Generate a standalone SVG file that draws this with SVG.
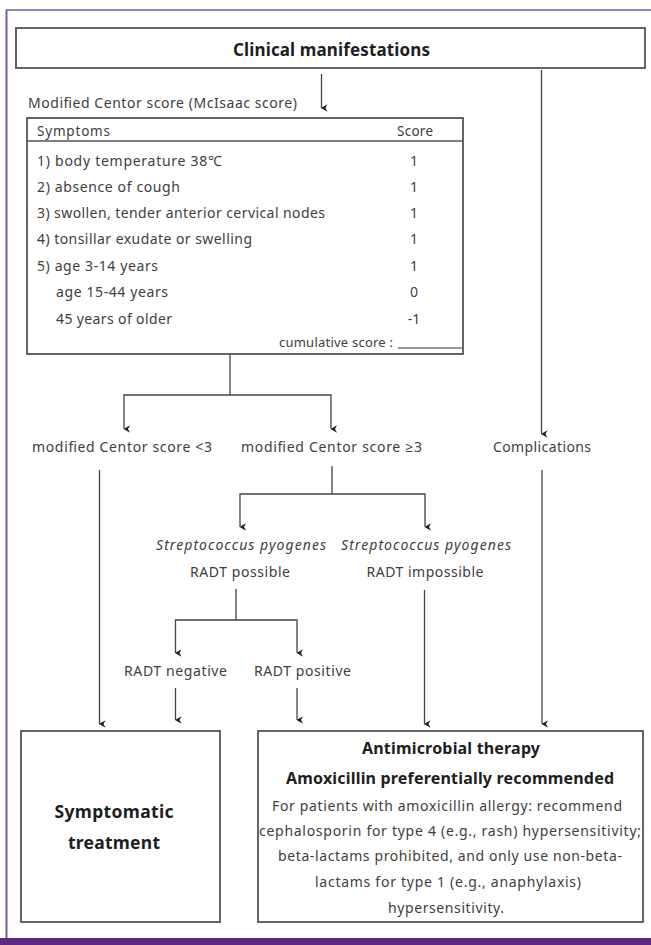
<svg xmlns="http://www.w3.org/2000/svg" width="651" height="945" viewBox="0 0 651 945">
<defs>
<marker id="ah" markerWidth="8" markerHeight="8" refX="4" refY="7.5" orient="auto" markerUnits="userSpaceOnUse" viewBox="0 0 8 8">
<path d="M0.3,1.5 L4,3.5 L7.7,1.5 L4,8 Z" fill="#222"/>
</marker>
<style>
text{font-family:"Noto Sans","Open Sans","Liberation Sans",sans-serif;fill:#404040;font-size:14px}
.b{font-weight:bold;fill:#1e1e1e}
.c{text-anchor:middle}
.i{font-style:italic}
.h{font-size:13.5px}
.sm{font-size:13px}
.t17{font-size:17px}
.t16{font-size:16px}
.t18{font-size:17.5px}
.box{fill:#fff;stroke:#555;stroke-width:1.8}
.ln{fill:none;stroke:#444;stroke-width:1.3}
.ar{marker-end:url(#ah)}
</style>
</defs>
<rect x="0" y="0" width="651" height="945" fill="#fff"/>
<g id="frame">
<line x1="6" y1="10" x2="651" y2="10" stroke="#7b58a6" stroke-width="1.5"/>
<line x1="6.5" y1="10" x2="6.5" y2="940" stroke="#7b58a6" stroke-width="2"/>
<rect x="0" y="938" width="651" height="7" fill="#5b2c7d"/>
</g>
<g id="connectors">
<line class="ln ar" x1="321.5" y1="74" x2="321.5" y2="108"/>
<line class="ln ar" x1="541.5" y1="70" x2="541.5" y2="434"/>
<polyline class="ln" points="230,354 230,395"/>
<polyline class="ln ar" points="230,395 124,395 124,429"/>
<polyline class="ln ar" points="230,395 331,395 331,429"/>
<line class="ln ar" x1="99.5" y1="470" x2="99.5" y2="724"/>
<line class="ln" x1="332" y1="466" x2="332" y2="494"/>
<polyline class="ln ar" points="332,494 240,494 240,527"/>
<polyline class="ln ar" points="332,494 425,494 425,527"/>
<line class="ln" x1="236" y1="589" x2="236" y2="620"/>
<polyline class="ln ar" points="236,620 175.5,620 175.5,653"/>
<polyline class="ln ar" points="236,620 297,620 297,653"/>
<line class="ln ar" x1="175.5" y1="688" x2="175.5" y2="720"/>
<line class="ln ar" x1="297" y1="688" x2="297" y2="720"/>
<line class="ln ar" x1="424.5" y1="590" x2="424.5" y2="724"/>
<line class="ln ar" x1="542" y1="470" x2="542" y2="724"/>
</g>
<g id="clinical">
<rect class="box" x="16" y="28" width="629" height="40"/>
<text class="b c t17" x="331.5" y="56" textLength="197">Clinical manifestations</text>
</g>
<g id="centor-label">
<text x="28" y="108" textLength="269">Modified Centor score (McIsaac score)</text>
</g>
<g id="score-table">
<rect class="box" x="27" y="118" width="436" height="236"/>
<line x1="27" y1="141" x2="463" y2="141" stroke="#555" stroke-width="1.3"/>
<text class="h" x="37" y="136" textLength="73">Symptoms</text>
<text class="h" x="397" y="136" textLength="36">Score</text>
<text x="37" y="166" textLength="185">1) body temperature 38℃</text>
<text x="37" y="192" textLength="143">2) absence of cough</text>
<text x="37" y="218" textLength="288">3) swollen, tender anterior cervical nodes</text>
<text x="37" y="244" textLength="215">4) tonsillar exudate or swelling</text>
<text x="37" y="271" textLength="121">5) age 3-14 years</text>
<text x="56" y="297" textLength="112">age 15-44 years</text>
<text x="56" y="324" textLength="116">45 years of older</text>
<text class="c" x="414" y="166">1</text>
<text class="c" x="414" y="192">1</text>
<text class="c" x="414" y="218">1</text>
<text class="c" x="414" y="244">1</text>
<text class="c" x="414" y="271">1</text>
<text class="c" x="414" y="297">0</text>
<text class="c" x="414" y="324">-1</text>
<text class="sm" x="279" y="347" textLength="114">cumulative score :</text>
<line x1="398" y1="348" x2="462" y2="348" stroke="#333" stroke-width="1"/>
</g>
<g id="score-lt3"><text class="c" x="122" y="452" textLength="180">modified Centor score &lt;3</text></g>
<g id="score-ge3"><text class="c" x="331.5" y="452" textLength="181">modified Centor score ≥3</text></g>
<g id="complications"><text class="c" x="542" y="452" textLength="98">Complications</text></g>
<g id="radt-possible">
<text class="c i" x="241" y="550" textLength="170">Streptococcus pyogenes</text>
<text class="c" x="240" y="577" textLength="100">RADT possible</text>
</g>
<g id="radt-impossible">
<text class="c i" x="426" y="550" textLength="170">Streptococcus pyogenes</text>
<text class="c" x="425" y="577" textLength="117">RADT impossible</text>
</g>
<g id="radt-negative"><text class="c" x="175.5" y="676" textLength="103">RADT negative</text></g>
<g id="radt-positive"><text class="c" x="302.5" y="676" textLength="97">RADT positive</text></g>
<g id="symptomatic">
<rect class="box" x="21" y="731" width="199" height="191"/>
<text class="b c t18" x="114" y="818" textLength="119">Symptomatic</text>
<text class="b c t18" x="114" y="849" textLength="92">treatment</text>
</g>
<g id="antimicrobial">
<rect class="box" x="258" y="731" width="385" height="191"/>
<text class="b c t16" x="451" y="754" textLength="178">Antimicrobial therapy</text>
<text class="b c t16" x="450" y="784" textLength="328">Amoxicillin preferentially recommended</text>
<text class="c" x="447" y="811" textLength="350">For patients with amoxicillin allergy: recommend</text>
<text class="c" x="450" y="836" textLength="382">cephalosporin for type 4 (e.g., rash) hypersensitivity;</text>
<text class="c" x="450" y="861" textLength="344">beta-lactams prohibited, and only use non-beta-</text>
<text class="c" x="448" y="887" textLength="266">lactams for type 1 (e.g., anaphylaxis)</text>
<text class="c" x="446" y="913" textLength="116">hypersensitivity.</text>
</g>
</svg>
